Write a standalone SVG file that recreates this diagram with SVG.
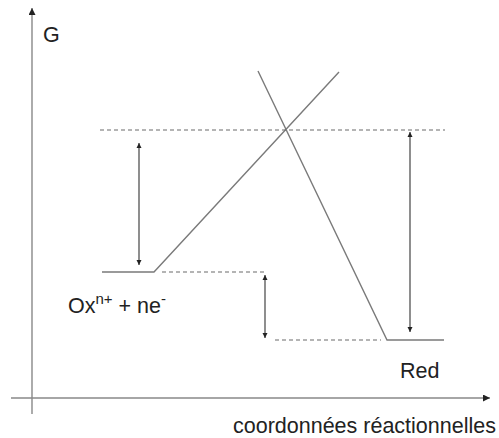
<svg xmlns="http://www.w3.org/2000/svg" width="499" height="438" viewBox="0 0 499 438">
<style>
.line{stroke:#7a7a7a;stroke-width:1.4;fill:none}
.dash{stroke:#6a6a6a;stroke-width:1.1;stroke-dasharray:4 3;fill:none}
.arr{stroke:#444;stroke-width:1.2;fill:none;marker-start:url(#ah);marker-end:url(#ah)}
.axis{stroke:#888;stroke-width:1.4;fill:none;marker-end:url(#ax)}
text{font-family:"Liberation Sans",Arial,sans-serif;fill:#222;font-size:21.5px}
</style>
<defs>
<marker id="ah" viewBox="0 0 10 10" refX="10" refY="5" markerWidth="5" markerHeight="7" orient="auto-start-reverse" markerUnits="userSpaceOnUse"><path d="M0,0 L10,5 L0,10 z" fill="#222"/></marker>
<marker id="ax" viewBox="0 0 10 10" refX="10" refY="5" markerWidth="10" markerHeight="7" orient="auto" markerUnits="userSpaceOnUse"><path d="M0,0 L10,5 L0,10 z" fill="#222"/></marker>
</defs>
<g id="axes">
<line class="axis" x1="32" y1="414" x2="32" y2="8"/>
<line class="axis" x1="11" y1="398" x2="490" y2="398"/>
</g>
<g id="curves">
<polyline class="line" points="102,272 154,272 339,72"/>
<polyline class="line" points="258,71 387,340 444,340"/>
</g>
<g id="levels">
<line class="dash" x1="100" y1="130" x2="445" y2="130"/>
<line class="dash" x1="162" y1="272" x2="266" y2="272"/>
<line class="dash" x1="275" y1="340" x2="381" y2="340"/>
</g>
<g id="connectors">
<line class="arr" x1="139" y1="143" x2="139" y2="265"/>
<line class="arr" x1="265" y1="275" x2="265" y2="338"/>
<line class="arr" x1="410" y1="132" x2="410" y2="332"/>
</g>
<g id="label-G"><text x="43" y="42">G</text></g>
<g id="label-Ox"><text x="68" y="313">Ox<tspan font-size="15" dy="-9">n+</tspan><tspan dy="9"> + ne</tspan><tspan font-size="15" dy="-9">-</tspan></text></g>
<g id="label-Red"><text x="400" y="378">Red</text></g>
<g id="label-x"><text x="233" y="433" font-size="22.5">coordonnées réactionnelles</text></g>
</svg>
